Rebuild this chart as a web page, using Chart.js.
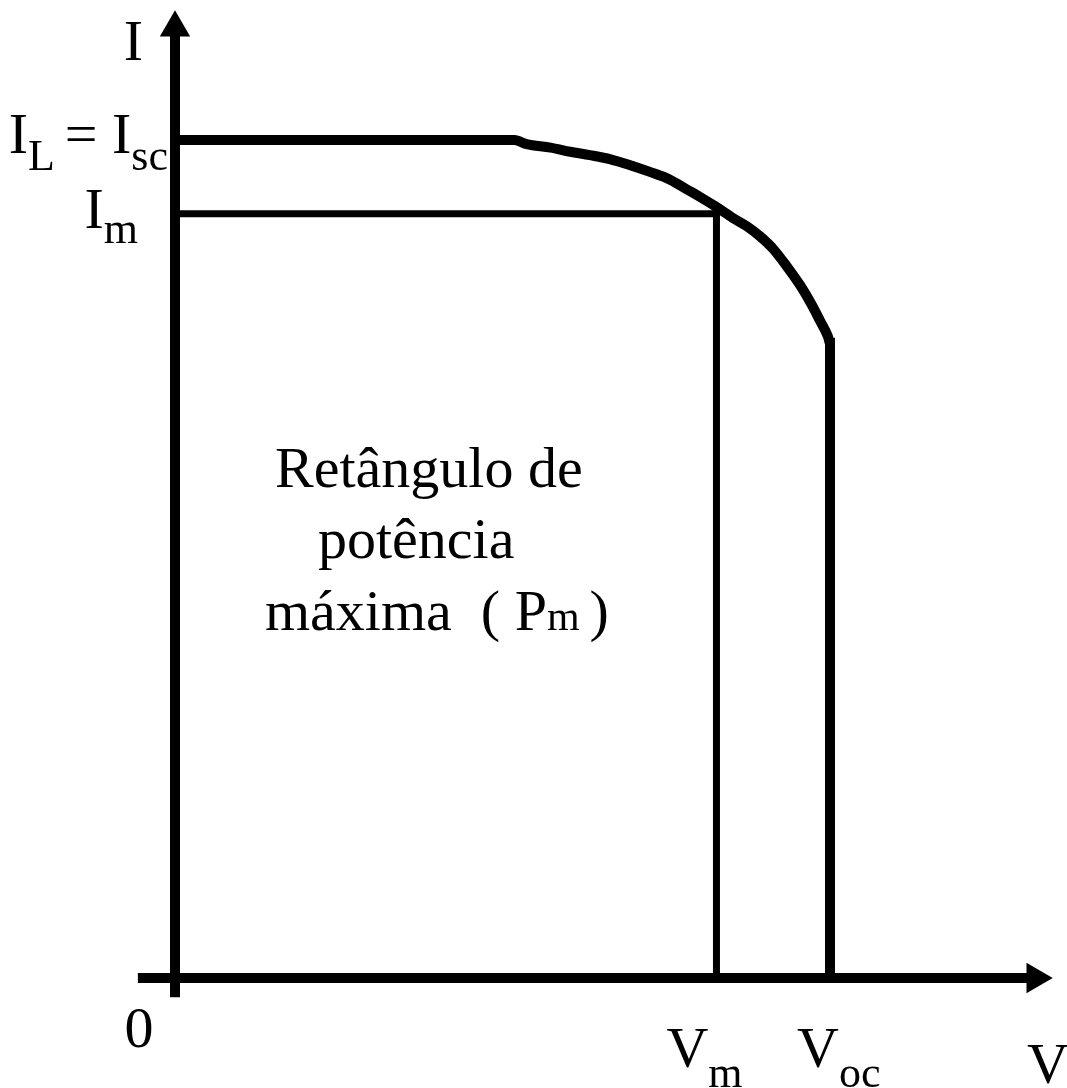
<!DOCTYPE html>
<html>
<head>
<meta charset="utf-8">
<script src="https://cdn.jsdelivr.net/npm/chart.js@4"></script>
<style>
    html, body { margin: 0; padding: 0; background: #ffffff; }
    #wrap { width: 1067px; height: 1088px; position: relative; }
</style>
</head>
<body>
<div id="wrap"><canvas id="ivChart"></canvas></div>
<script>
// curva I-V (tensão normalizada, corrente normalizada por Isc)
const vCurve = [0, 0.311, 0.322, 0.344, 0.362, 0.380, 0.399, 0.417, 0.435, 0.453, 0.469, 0.481, 0.496, 0.511, 0.524, 0.536, 0.548, 0.560, 0.573, 0.583, 0.591, 0.598, 0.600, 0.600];
const iCurve = [1.0, 1.0, 0.995, 0.991, 0.986, 0.982, 0.977, 0.970, 0.962, 0.953, 0.941, 0.932, 0.920, 0.907, 0.897, 0.885, 0.870, 0.850, 0.826, 0.804, 0.784, 0.766, 0.758, 0];

// ponto de potência máxima e extremos
const Isc = 1.0;
const Im = 0.912;
const Vm = 0.496;
const Voc = 0.600;

// extensão dos eixos (início e centro da seta)
const xAxisRange = [-0.034, 0.788];
const yAxisRange = [-0.023, 1.134];

const serif = '"Liberation Serif", "Times New Roman", serif';

document.addEventListener('DOMContentLoaded', function () {
    const curvePoints = vCurve.map((v, i) => ({ x: v, y: iCurve[i] }));

    // texto com índices (subscritos)
    function drawRich(ctx, parts, x, y, align) {
        let total = 0;
        parts.forEach(p => {
            ctx.font = p[1] + 'px ' + serif;
            total += ctx.measureText(p[0]).width;
        });
        let cx = align === 'right' ? x - total : (align === 'center' ? x - total / 2 : x);
        parts.forEach(p => {
            ctx.font = p[1] + 'px ' + serif;
            ctx.fillText(p[0], cx, y + (p[2] || 0));
            cx += ctx.measureText(p[0]).width;
        });
    }

    const labelsPlugin = {
        id: 'ivLabels',
        afterDatasetsDraw(chart) {
            const ctx = chart.ctx;
            const xs = chart.scales.x;
            const ys = chart.scales.y;
            const x0 = xs.getPixelForValue(0);
            const y0 = ys.getPixelForValue(0);
            const big = 58, sub = 44;

            ctx.save();
            ctx.fillStyle = '#000';
            ctx.textBaseline = 'alphabetic';
            ctx.textAlign = 'left';

            drawRich(ctx, [['I', big]], x0 - 32, 60, 'right');
            drawRich(ctx, [['I', big], ['L', sub, 17], [' ', 40], ['=', big], [' ', big], ['I', big], ['sc', sub, 17]],
                x0 - 7, ys.getPixelForValue(Isc) + 13, 'right');
            drawRich(ctx, [['I', big], ['m', sub, 15]], x0 - 37, ys.getPixelForValue(Im) + 14, 'right');

            drawRich(ctx, [['0', big]], x0 - 36, y0 + 69, 'center');
            drawRich(ctx, [['V', big], ['m', sub, 20]], xs.getPixelForValue(Vm) - 50, y0 + 89, 'left');
            drawRich(ctx, [['V', big], ['oc', sub, 20]], xs.getPixelForValue(Voc) - 33, y0 + 89, 'left');
            drawRich(ctx, [['V', big]], 1027, y0 + 105, 'left');

            // legenda do retângulo de potência máxima
            const body = 58;
            drawRich(ctx, [['Retângulo de', body]], x0 + 100, 487, 'left');
            drawRich(ctx, [['potência', body]], x0 + 143, 558, 'left');
            drawRich(ctx, [['máxima  ( P', body], ['m', 42], [' ', 40], [')', body]], x0 + 90, 630, 'left');
            ctx.restore();
        }
    };

    const ctx = document.getElementById('ivChart').getContext('2d');
    new Chart(ctx, {
        type: 'scatter',
        data: {
            datasets: [
                {
                    label: 'I',
                    data: [{ x: 0, y: yAxisRange[0] }, { x: 0, y: yAxisRange[1] }],
                    showLine: true,
                    borderColor: '#000',
                    borderWidth: 10,
                    pointStyle: 'triangle',
                    pointBackgroundColor: '#000',
                    pointBorderWidth: 0,
                    pointRadius: [0, 17.5],
                    pointRotation: 0
                },
                {
                    label: 'V',
                    data: [{ x: xAxisRange[0], y: 0 }, { x: xAxisRange[1], y: 0 }],
                    showLine: true,
                    borderColor: '#000',
                    borderWidth: 10,
                    pointStyle: 'triangle',
                    pointBackgroundColor: '#000',
                    pointBorderWidth: 0,
                    pointRadius: [0, 17.5],
                    pointRotation: 90
                },
                {
                    label: 'Curva I-V',
                    data: curvePoints,
                    showLine: true,
                    borderColor: '#000',
                    borderWidth: 10,
                    cubicInterpolationMode: 'monotone',
                    pointRadius: 0
                },
                {
                    label: 'Pm',
                    data: [{ x: 0, y: Im }, { x: Vm, y: Im }, { x: Vm, y: 0 }],
                    showLine: true,
                    borderColor: '#000',
                    borderWidth: 7,
                    pointRadius: 0
                }
            ]
        },
        options: {
            responsive: true,
            maintainAspectRatio: false,
            animation: false,
            layout: { padding: 0, autoPadding: false },
            plugins: {
                legend: { display: false },
                tooltip: { enabled: false }
            },
            scales: {
                x: { type: 'linear', min: -0.1603, max: 0.8171, display: false },
                y: { type: 'linear', min: -0.1313, max: 1.1671, display: false }
            }
        },
        plugins: [labelsPlugin]
    });
});
</script>
</body>
</html>
